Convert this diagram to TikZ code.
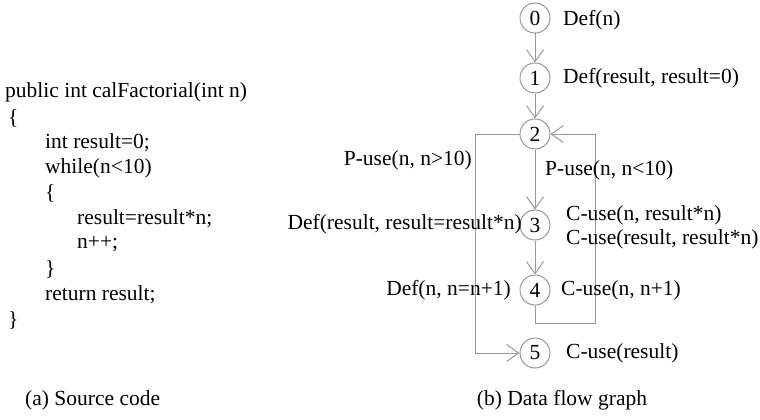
\documentclass[tikz,border=0pt]{standalone}
\usepackage{fontspec}
\setmainfont{Liberation Serif}
\usetikzlibrary{arrows.meta}
\begin{document}
\begin{tikzpicture}[x=1pt,y=-1pt,
  every node/.style={font=\fontsize{21.5}{25}\selectfont, inner sep=0pt},
  vtx/.style={circle, draw=gray!80, line width=1pt, minimum size=30pt, fill=white},
  lbl/.style={anchor=west},
  lblr/.style={anchor=east},
  code/.style={anchor=west},
  edge/.style={draw=gray!80, line width=1pt, -{Straight Barb[length=12pt,width=17pt,line width=1pt]}},
  line/.style={draw=gray!80, line width=1pt}]
\useasboundingbox (0,0) rectangle (760,420);
% source code
\node[code] (c1) at (5,92) {public int calFactorial(int n)};
\node[code] (c2) at (8,118) {\{};
\node[code] (c3) at (45,143) {int result=0;};
\node[code] (c4) at (45,168) {while(n<10)};
\node[code] (c5) at (45,193) {\{};
\node[code] (c6) at (77,219) {result=result*n;};
\node[code] (c7) at (77,244) {n++;};
\node[code] (c8) at (45,269) {\}};
\node[code] (c9) at (45,295) {return result;};
\node[code] (c10) at (8,320) {\}};
\node[code] (capa) at (25,400) {(a) Source code};
% graph
\node[vtx] (n0) at (535,18) {0};
\node[vtx] (n1) at (535,78) {1};
\node[vtx] (n2) at (535,134) {2};
\node[vtx] (n3) at (535,225) {3};
\node[vtx] (n4) at (535,290) {4};
\node[vtx] (n5) at (535,353) {5};
\coordinate (lt) at (475,134);
\coordinate (lb) at (475,353);
\coordinate (rb1) at (535,323);
\coordinate (rb2) at (595,323);
\coordinate (rt) at (595,134);
\draw[edge] (n0) -- (n1);
\draw[edge] (n1) -- (n2);
\draw[edge] (n2) -- (n3);
\draw[edge] (n3) -- (n4);
\draw[edge] (n2.west) -- (lt) -- (lb) -- (n5.west);
\draw[edge] (n4.south) -- (rb1) -- (rb2) -- (rt) -- (n2.east);
\node[lbl] (t0) at (563,20) {Def(n)};
\node[lbl] (t1) at (563,78) {Def(result, result=0)};
\node[lblr] (t2a) at (472,160) {P-use(n, n>10)};
\node[lbl] (t2b) at (545,170) {P-use(n, n<10)};
\node[lblr] (t3a) at (522,224) {Def(result, result=result*n)};
\node[lbl] (t3b) at (566,215) {C-use(n, result*n)};
\node[lbl] (t3c) at (566,239) {C-use(result, result*n)};
\node[lblr] (t4a) at (511,290) {Def(n, n=n+1)};
\node[lbl] (t4b) at (561,290) {C-use(n, n+1)};
\node[lbl] (t5) at (566,353) {C-use(result)};
\node (capb) at (562,400) {(b) Data flow graph};
\end{tikzpicture}
\end{document}
